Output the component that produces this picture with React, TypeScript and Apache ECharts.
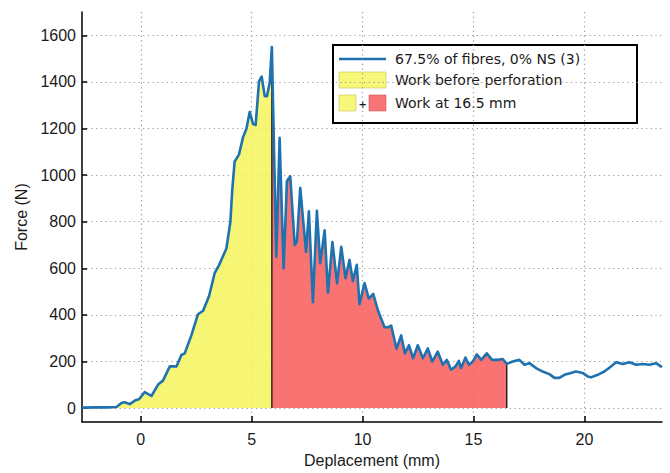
import React, { useEffect, useRef } from "react";
import * as echarts from "echarts";

const seriesName = "67.5% of fibres, 0% NS (3)";
const areaBeforeLabel = "Work before perforation";
const areaTotalLabel = "Work at 16.5 mm";
const xAxisTitle = "Deplacement (mm)";
const yAxisTitle = "Force (N)";

const xTicks = [0, 5, 10, 15, 20];
const yTicks = [0, 200, 400, 600, 800, 1000, 1200, 1400, 1600];

const perforationX = 5.91;
const workEndX = 16.5;

const displacement = [
  -2.65, -2.0, -1.5, -1.1, -0.87, -0.72, -0.5, -0.23, -0.08, 0.18, 0.48, 0.78, 1.0, 1.31, 1.61, 1.83,
  1.98, 2.28, 2.58, 2.81, 3.08, 3.33, 3.53, 3.86, 4.04, 4.12, 4.23, 4.43, 4.61, 4.76, 4.91, 5.06,
  5.18, 5.33, 5.45, 5.59, 5.69, 5.81, 5.91, 6.11, 6.26, 6.44, 6.59, 6.74, 6.94, 7.04, 7.19, 7.45,
  7.58, 7.76, 7.94, 8.09, 8.29, 8.44, 8.64, 8.85, 9.04, 9.23, 9.41, 9.56, 9.74, 9.86, 10.09, 10.28,
  10.48, 10.69, 10.99, 11.14, 11.29, 11.53, 11.74, 11.91, 12.09, 12.28, 12.49, 12.72, 12.94, 13.14, 13.39, 13.62,
  13.8, 13.99, 14.19, 14.34, 14.44, 14.64, 14.79, 14.97, 15.15, 15.35, 15.6, 15.84, 16.1, 16.32, 16.5, 16.77,
  17.07, 17.3, 17.52, 17.82, 18.12, 18.42, 18.65, 18.87, 19.1, 19.4, 19.62, 19.92, 20.15, 20.3, 20.6, 20.9,
  21.2, 21.43, 21.73, 22.03, 22.33, 22.63, 22.93, 23.23, 23.5,
];

const force = [
  2, 3, 3, 5, 22, 25, 17, 34, 38, 69, 52, 101, 118, 179, 179, 228,
  235, 312, 403, 418, 481, 579, 614, 685, 800, 930, 1058, 1089, 1163, 1198, 1271, 1220,
  1215, 1402, 1423, 1339, 1339, 1395, 1550, 650, 1160, 600, 975, 995, 700, 715, 945, 670,
  845, 455, 847, 622, 763, 495, 713, 535, 692, 558, 636, 545, 615, 446, 537, 470,
  490, 420, 347, 347, 354, 255, 312, 235, 270, 214, 270, 214, 256, 200, 242, 186,
  207, 165, 179, 203, 172, 217, 186, 200, 231, 207, 235, 207, 207, 211, 190, 200,
  207, 186, 193, 172, 157, 146, 130, 130, 143, 151, 157, 151, 136, 132, 143, 157,
  179, 197, 189, 197, 186, 189, 186, 193, 176,
];

const BLUE = "#1f72b0";
const YELLOW = "#f4f45c";
const RED = "#f85a5a";

function forceAt(x: number): number {
  for (let i = 0; i < displacement.length - 1; i++) {
    const x0 = displacement[i];
    const x1 = displacement[i + 1];
    if (x >= x0 && x <= x1) {
      const t = x1 === x0 ? 0 : (x - x0) / (x1 - x0);
      return force[i] + t * (force[i + 1] - force[i]);
    }
  }
  return force[force.length - 1];
}

export default function App() {
  const ref = useRef<HTMLDivElement>(null);

  useEffect(() => {
    if (!ref.current) return;
    const chart = echarts.init(ref.current, undefined, { renderer: "svg" });

    const points = displacement.map((x, i) => [x, force[i]]);
    const yellowPts = points.filter((p) => p[0] <= perforationX);
    const redPts = points.filter((p) => p[0] >= perforationX && p[0] <= workEndX);
    const perfY = forceAt(perforationX);
    const endY = forceAt(workEndX);

    const tickFont = { fontFamily: "Liberation Sans, Arial, sans-serif", fontSize: 16, color: "#1a1a1a" };
    const legendFont = "14px 'DejaVu Sans', sans-serif";
    const plain = (v: number) => String(v);

    chart.setOption({
      animation: false,
      backgroundColor: "#ffffff",
      grid: { left: 82, right: 8, top: 12, bottom: 45, containLabel: false },
      xAxis: {
        type: "value",
        min: -2.65,
        max: 23.5,
        name: xAxisTitle,
        nameLocation: "middle",
        nameGap: 29,
        nameTextStyle: tickFont,
        axisLine: { show: true, onZero: false, lineStyle: { color: "#000", width: 1.5 } },
        axisTick: { show: true, inside: true, length: 6, customValues: xTicks, lineStyle: { color: "#000", width: 1.5 } },
        axisLabel: { customValues: xTicks, margin: 9, formatter: plain, ...tickFont },
        splitLine: { show: true, lineStyle: { color: "#9a9a9a", width: 1.2, type: [1.2, 3.5] } },
      },
      yAxis: {
        type: "value",
        min: -60,
        max: 1700,
        name: yAxisTitle,
        nameLocation: "middle",
        nameGap: 44,
        nameRotate: 90,
        nameTextStyle: tickFont,
        axisLine: { show: true, onZero: false, lineStyle: { color: "#000", width: 1.5 } },
        axisTick: { show: true, inside: true, length: 5, customValues: yTicks, lineStyle: { color: "#000", width: 1.5 } },
        axisLabel: { customValues: yTicks, margin: 6, formatter: plain, ...tickFont },
        splitLine: { show: true, lineStyle: { color: "#9a9a9a", width: 1.2, type: [1.2, 3.5] } },
      },
      series: [
        {
          name: areaBeforeLabel,
          type: "line",
          data: yellowPts,
          showSymbol: false,
          silent: true,
          lineStyle: { width: 0 },
          areaStyle: { color: YELLOW, opacity: 0.85, origin: 0 },
          z: 1,
        },
        {
          name: areaTotalLabel,
          type: "line",
          data: redPts,
          showSymbol: false,
          silent: true,
          lineStyle: { width: 0 },
          areaStyle: { color: RED, opacity: 0.85, origin: 0 },
          z: 1,
        },
        {
          type: "line",
          data: [[perforationX, 0], [perforationX, perfY]],
          showSymbol: false,
          silent: true,
          lineStyle: { color: "#111", width: 1.3 },
          z: 2,
        },
        {
          type: "line",
          data: [[workEndX, 0], [workEndX, endY]],
          showSymbol: false,
          silent: true,
          lineStyle: { color: "#111", width: 1.3 },
          z: 2,
        },
        {
          name: seriesName,
          type: "line",
          data: points,
          showSymbol: false,
          silent: true,
          lineStyle: { color: BLUE, width: 2.6, join: "round" },
          z: 4,
        },
      ],
      graphic: [
        {
          type: "group",
          left: 332,
          top: 44,
          children: [
            { type: "rect", shape: { x: 0, y: 0, width: 304, height: 78 }, style: { fill: "#fff", stroke: "#000", lineWidth: 2 } },
            { type: "line", shape: { x1: 6, y1: 14, x2: 53, y2: 14 }, style: { stroke: BLUE, lineWidth: 2.6 } },
            { type: "text", x: 62, y: 14, style: { text: seriesName, font: legendFont, fill: "#1a1a1a", textVerticalAlign: "middle" } },
            { type: "rect", shape: { x: 6, y: 27, width: 47, height: 16 }, style: { fill: "#f7f779", stroke: "#c8c860", lineWidth: 0.6 } },
            { type: "text", x: 62, y: 35, style: { text: areaBeforeLabel, font: legendFont, fill: "#1a1a1a", textVerticalAlign: "middle" } },
            { type: "rect", shape: { x: 6, y: 50, width: 17, height: 16 }, style: { fill: "#f7f779", stroke: "#c8c860", lineWidth: 0.6 } },
            { type: "text", x: 25.5, y: 59, style: { text: "+", font: "bold 10px 'DejaVu Sans', sans-serif", fill: "#1a1a1a", textVerticalAlign: "middle" } },
            { type: "rect", shape: { x: 36, y: 50, width: 17, height: 16 }, style: { fill: "#f97575", stroke: "#c85a5a", lineWidth: 0.6 } },
            { type: "text", x: 62, y: 58, style: { text: areaTotalLabel, font: legendFont, fill: "#1a1a1a", textVerticalAlign: "middle" } },
          ],
        },
      ],
    });

    return () => chart.dispose();
  }, []);

  return (
    <div
      ref={ref}
      style={{ position: "fixed", left: 0, top: 0, width: 670, height: 473, background: "#fff" }}
    />
  );
}
